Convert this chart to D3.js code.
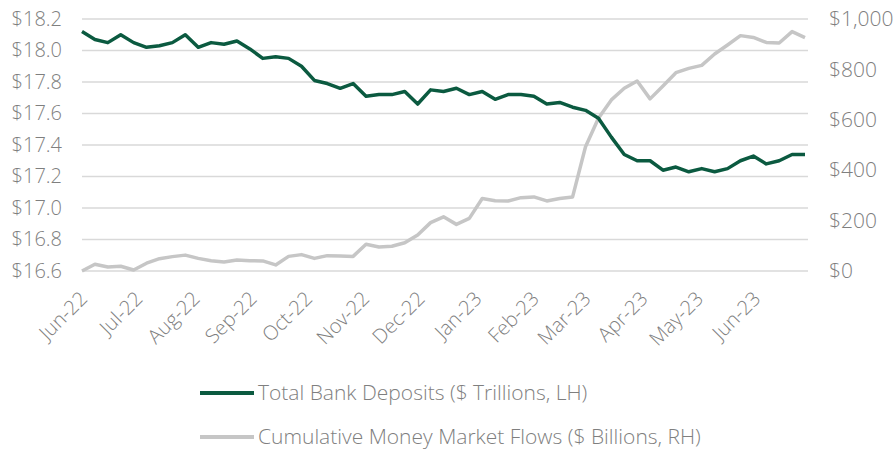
<!DOCTYPE html>
<html>
<head>
<meta charset="utf-8">
<script src="https://cdn.jsdelivr.net/npm/d3@7"></script>
<style>
  body { margin: 0; background: #fff; }
  text { font-family: "Open Sans", sans-serif; font-weight: 300; fill: #7f7f7f; }
</style>
</head>
<body>
<div id="chart"></div>
<script>
// Data
const weeks = [
  "2022-06-01","2022-06-08","2022-06-15","2022-06-22","2022-06-29",
  "2022-07-06","2022-07-13","2022-07-20","2022-07-27",
  "2022-08-03","2022-08-10","2022-08-17","2022-08-24","2022-08-31",
  "2022-09-07","2022-09-14","2022-09-21","2022-09-28",
  "2022-10-05","2022-10-12","2022-10-19","2022-10-26",
  "2022-11-02","2022-11-09","2022-11-16","2022-11-23","2022-11-30",
  "2022-12-07","2022-12-14","2022-12-21","2022-12-28",
  "2023-01-04","2023-01-11","2023-01-18","2023-01-25",
  "2023-02-01","2023-02-08","2023-02-15","2023-02-22",
  "2023-03-01","2023-03-08","2023-03-15","2023-03-22","2023-03-29",
  "2023-04-05","2023-04-12","2023-04-19","2023-04-26",
  "2023-05-03","2023-05-10","2023-05-17","2023-05-24","2023-05-31",
  "2023-06-07","2023-06-14","2023-06-21","2023-06-28"
];

// Total bank deposits, $ trillions (left axis)
const deposits = [
  18.12, 18.07, 18.05, 18.10, 18.05, 18.02, 18.03, 18.05, 18.10, 18.02,
  18.05, 18.04, 18.06, 18.01, 17.95, 17.96, 17.95, 17.90, 17.81, 17.79,
  17.76, 17.79, 17.71, 17.72, 17.72, 17.74, 17.66, 17.75, 17.74, 17.76,
  17.72, 17.74, 17.69, 17.72, 17.72, 17.71, 17.66, 17.67, 17.64, 17.62,
  17.57, 17.45, 17.34, 17.30, 17.30, 17.24, 17.26, 17.23, 17.25, 17.23,
  17.25, 17.30, 17.33, 17.28, 17.30, 17.34, 17.34
];

// Cumulative money market flows, $ billions (right axis)
const mmFlows = [
  0, 27, 16, 19, 4, 31, 49, 57, 63, 50,
  41, 36, 44, 41, 40, 24, 58, 65, 50, 61,
  60, 58, 106, 95, 98, 112, 143, 192, 215, 185,
  209, 288, 279, 278, 291, 294, 278, 288, 294, 493,
  606, 679, 725, 754, 683, 734, 787, 804, 816, 861,
  897, 934, 927, 907, 905, 950, 926
];

const leftTicks = [16.6, 16.8, 17.0, 17.2, 17.4, 17.6, 17.8, 18.0, 18.2];
const rightTicks = [0, 200, 400, 600, 800, 1000];
const seriesNames = [
  "Total Bank Deposits ($ Trillions, LH)",
  "Cumulative Money Market Flows ($ Billions, RH)"
];

// Dimensions
const width = 894, height = 449;
const plot = { left: 82, right: 805, gridRight: 808, top: 19, bottom: 271 };
const green = "#0b5a40", grey = "#c6c6c6";

const parse = d3.timeParse("%Y-%m-%d");
const dates = weeks.map(parse);

const svg = d3.select("#chart").append("svg")
  .attr("width", width)
  .attr("height", height);

// Scales
const x = d3.scaleTime()
  .domain(d3.extent(dates))
  .range([plot.left, plot.right]);

const yL = d3.scaleLinear()
  .domain([16.6, 18.2])
  .range([plot.bottom, plot.top]);

const yR = d3.scaleLinear()
  .domain([0, 1000])
  .range([plot.bottom, plot.top]);

// Gridlines
svg.append("g")
  .selectAll("line")
  .data(leftTicks)
  .join("line")
  .attr("x1", plot.left)
  .attr("x2", plot.gridRight)
  .attr("y1", d => yL(d))
  .attr("y2", d => yL(d))
  .attr("stroke", "#d9d9d9")
  .attr("stroke-width", 1.5);

// Left axis
const leftAxis = svg.append("g")
  .attr("transform", `translate(${plot.left - 20},0)`)
  .call(d3.axisLeft(yL).tickValues(leftTicks).tickSize(0).tickPadding(0)
    .tickFormat(d => "$" + d3.format(".1f")(d)));
leftAxis.select(".domain").remove();
leftAxis.selectAll("text").style("font-size", "20px");

// Right axis
const rightAxis = svg.append("g")
  .attr("transform", `translate(${plot.gridRight + 21},0)`)
  .call(d3.axisRight(yR).tickValues(rightTicks).tickSize(0).tickPadding(0)
    .tickFormat(d => "$" + d3.format(",")(d)));
rightAxis.select(".domain").remove();
rightAxis.selectAll("text").style("font-size", "21px");

// X axis
const xAxis = svg.append("g")
  .attr("transform", `translate(0,${plot.bottom})`)
  .call(d3.axisBottom(x).ticks(d3.timeMonth.every(1)).tickSize(0)
    .tickFormat(d3.timeFormat("%b-%y")));
xAxis.select(".domain").remove();
xAxis.selectAll("text")
  .style("font-size", "20px")
  .attr("text-anchor", "end")
  .attr("dy", null)
  .attr("y", 0)
  .attr("transform", "translate(6,29) rotate(-45)");

// Lines
const lineL = d3.line().x((d, i) => x(dates[i])).y(d => yL(d));
const lineR = d3.line().x((d, i) => x(dates[i])).y(d => yR(d));

svg.append("path")
  .datum(mmFlows)
  .attr("d", lineR)
  .attr("fill", "none")
  .attr("stroke", grey)
  .attr("stroke-width", 3.5)
  .attr("stroke-linejoin", "round");

svg.append("path")
  .datum(deposits)
  .attr("d", lineL)
  .attr("fill", "none")
  .attr("stroke", green)
  .attr("stroke-width", 3.5)
  .attr("stroke-linejoin", "round");

// Legend
const legend = svg.append("g").attr("transform", "translate(200,393)");
const items = legend.selectAll("g")
  .data(seriesNames)
  .join("g")
  .attr("transform", (d, i) => `translate(0,${i * 44})`);

items.append("line")
  .attr("x1", 0).attr("x2", 54)
  .attr("stroke", (d, i) => i === 0 ? green : grey)
  .attr("stroke-width", 4);

items.append("text")
  .attr("x", 58)
  .attr("dy", "0.35em")
  .style("font-size", "21px")
  .text(d => d);
</script>
</body>
</html>
